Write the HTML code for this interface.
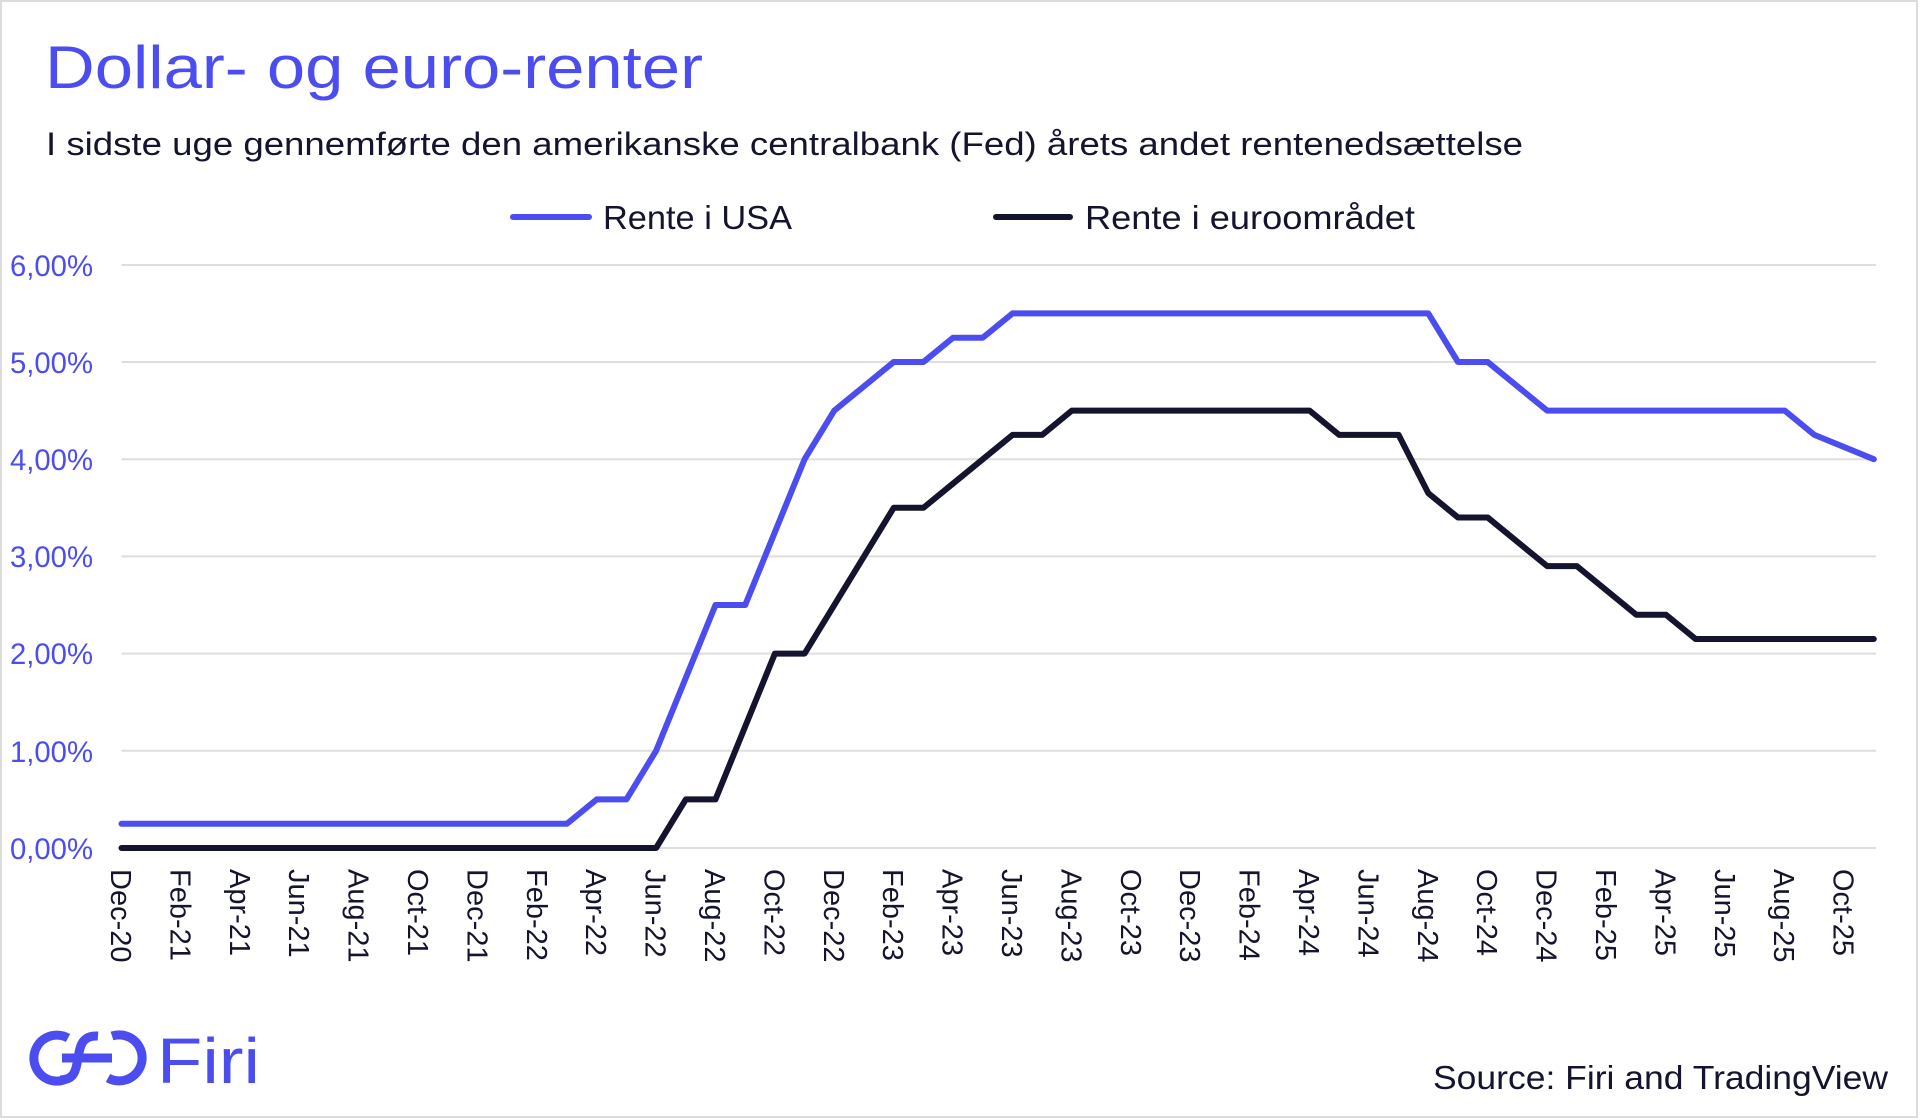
<!DOCTYPE html>
<html><head><meta charset="utf-8"><style>html,body{margin:0;padding:0;background:#fff}svg{display:block}</style></head>
<body>
<svg width="1920" height="1120" viewBox="0 0 1920 1120" xmlns="http://www.w3.org/2000/svg" font-family="Liberation Sans, sans-serif">
<rect x="1" y="1" width="1916" height="1116" fill="#fff" stroke="#dcdcdc" stroke-width="2"/>
<text x="45" y="88" font-size="60" fill="#4b4df0" textLength="658" lengthAdjust="spacingAndGlyphs">Dollar- og euro-renter</text>
<text x="46" y="155" font-size="32" fill="#14142e" textLength="1477" lengthAdjust="spacingAndGlyphs">I sidste uge gennemførte den amerikanske centralbank (Fed) årets andet rentenedsættelse</text>
<line x1="513" y1="217" x2="589" y2="217" stroke="#4b4df0" stroke-width="6" stroke-linecap="round"/>
<text x="603" y="229" font-size="33" fill="#14142e" textLength="189" lengthAdjust="spacingAndGlyphs">Rente i USA</text>
<line x1="996" y1="217" x2="1070" y2="217" stroke="#14142e" stroke-width="6" stroke-linecap="round"/>
<text x="1085" y="229" font-size="33" fill="#14142e" textLength="330" lengthAdjust="spacingAndGlyphs">Rente i euroområdet</text>
<g stroke="#dedede" stroke-width="2">
<line x1="121.5" y1="265" x2="1876" y2="265"/><line x1="121.5" y1="362" x2="1876" y2="362"/><line x1="121.5" y1="459.2" x2="1876" y2="459.2"/><line x1="121.5" y1="556.4" x2="1876" y2="556.4"/><line x1="121.5" y1="653.6" x2="1876" y2="653.6"/><line x1="121.5" y1="750.8" x2="1876" y2="750.8"/><line x1="121.5" y1="848" x2="1876" y2="848"/>
</g>
<g font-size="30" fill="#4b4df0" text-anchor="end">
<text x="93" y="276" textLength="83" lengthAdjust="spacingAndGlyphs">6,00%</text><text x="93" y="373" textLength="83" lengthAdjust="spacingAndGlyphs">5,00%</text><text x="93" y="470" textLength="83" lengthAdjust="spacingAndGlyphs">4,00%</text><text x="93" y="567" textLength="83" lengthAdjust="spacingAndGlyphs">3,00%</text><text x="93" y="664" textLength="83" lengthAdjust="spacingAndGlyphs">2,00%</text><text x="93" y="762" textLength="83" lengthAdjust="spacingAndGlyphs">1,00%</text><text x="93" y="859" textLength="83" lengthAdjust="spacingAndGlyphs">0,00%</text>
</g>
<polyline fill="none" stroke="#4b4df0" stroke-width="6" stroke-linejoin="round" stroke-linecap="round" points="121.5,823.7 567,823.7 596.7,799.4 626.4,799.4 656.1,750.8 715.5,605 745.2,605 804.6,459.2 834.3,410.6 893.7,362 923.4,362 953.1,337.7 982.8,337.7 1012.5,313.4 1428.3,313.4 1458,362 1487.7,362 1547.1,410.6 1784.7,410.6 1814.4,434.9 1873.8,459.2"/>
<polyline fill="none" stroke="#14142e" stroke-width="6" stroke-linejoin="round" stroke-linecap="round" points="121.5,848 656.1,848 685.8,799.4 715.5,799.4 774.9,653.6 804.6,653.6 893.7,507.8 923.4,507.8 953.1,483.5 1012.5,434.9 1042.2,434.9 1071.9,410.6 1309.5,410.6 1339.2,434.9 1398.6,434.9 1428.3,493.2 1458,517.5 1487.7,517.5 1547.1,566.1 1576.8,566.1 1636.2,614.7 1665.9,614.7 1695.6,639 1873.8,639"/>
<g font-size="29" fill="#14142e">
<text transform="translate(111,869) rotate(90)">Dec-20</text>
<text transform="translate(170.4,869) rotate(90)">Feb-21</text>
<text transform="translate(229.8,869) rotate(90)">Apr-21</text>
<text transform="translate(289.2,869) rotate(90)">Jun-21</text>
<text transform="translate(348.6,869) rotate(90)">Aug-21</text>
<text transform="translate(408,869) rotate(90)">Oct-21</text>
<text transform="translate(467.4,869) rotate(90)">Dec-21</text>
<text transform="translate(526.8,869) rotate(90)">Feb-22</text>
<text transform="translate(586.2,869) rotate(90)">Apr-22</text>
<text transform="translate(645.6,869) rotate(90)">Jun-22</text>
<text transform="translate(705,869) rotate(90)">Aug-22</text>
<text transform="translate(764.4,869) rotate(90)">Oct-22</text>
<text transform="translate(823.8,869) rotate(90)">Dec-22</text>
<text transform="translate(883.2,869) rotate(90)">Feb-23</text>
<text transform="translate(942.6,869) rotate(90)">Apr-23</text>
<text transform="translate(1002,869) rotate(90)">Jun-23</text>
<text transform="translate(1061.4,869) rotate(90)">Aug-23</text>
<text transform="translate(1120.8,869) rotate(90)">Oct-23</text>
<text transform="translate(1180.2,869) rotate(90)">Dec-23</text>
<text transform="translate(1239.6,869) rotate(90)">Feb-24</text>
<text transform="translate(1299,869) rotate(90)">Apr-24</text>
<text transform="translate(1358.4,869) rotate(90)">Jun-24</text>
<text transform="translate(1417.8,869) rotate(90)">Aug-24</text>
<text transform="translate(1477.2,869) rotate(90)">Oct-24</text>
<text transform="translate(1536.6,869) rotate(90)">Dec-24</text>
<text transform="translate(1596,869) rotate(90)">Feb-25</text>
<text transform="translate(1655.4,869) rotate(90)">Apr-25</text>
<text transform="translate(1714.8,869) rotate(90)">Jun-25</text>
<text transform="translate(1774.2,869) rotate(90)">Aug-25</text>
<text transform="translate(1833.6,869) rotate(90)">Oct-25</text>
</g>
<g fill="none" stroke="#4b4df0" stroke-width="9">
<path d="M68,1038 A23,23 0 1 0 64,1080"/>
<path d="M108,1078 A23,23 0 1 0 112,1036"/>
<path d="M98,1036 C82,1035 80,1046 78,1058 C76,1071 74,1080 60,1080"/>
<line x1="62" y1="1058" x2="112" y2="1058"/>
</g>
<text x="157" y="1083" font-size="64" fill="#4b4df0" textLength="103" lengthAdjust="spacingAndGlyphs">Firi</text>
<text x="1433" y="1089" font-size="33" fill="#14142e" textLength="455" lengthAdjust="spacingAndGlyphs">Source: Firi and TradingView</text>
</svg>
</body></html>
